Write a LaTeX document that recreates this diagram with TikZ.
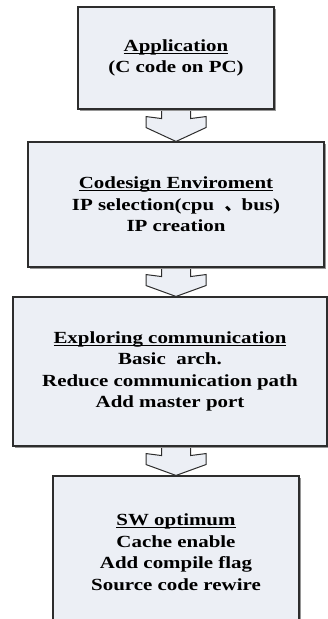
\documentclass[tikz,border=0pt]{standalone}
\usepackage{fontspec}
\setmainfont{Liberation Serif}[FakeStretch=1.23]
\newfontfamily\cjk{Noto Sans CJK SC}
\usetikzlibrary{calc,backgrounds}
\definecolor{boxfill}{RGB}{236,239,245}
\definecolor{boxline}{RGB}{45,45,45}
\definecolor{boxshade}{RGB}{150,150,150}
% underlined heading with a fixed rule just below the baseline
\newcommand\ulhead[1]{\setbox0=\hbox{#1}\rlap{\rule[-2.6pt]{\wd0}{1.2pt}}\box0}
% hollow block arrow from the bottom of one stage to the top of the next
\newcommand\stagearrow[2]{%
  \draw[flowarrow] let \p0=(axis), \p1=(#1.south), \p2=(#2.north) in
    (\x0-14.5pt,\y1) -- (\x0-14.5pt,\y1-9pt) -- (\x0-30pt,\y1-7pt)
    -- (\x0-30pt,\y1-18pt) -- (\x0,\y2) -- (\x0+30pt,\y1-18pt)
    -- (\x0+30pt,\y1-7pt) -- (\x0+14.5pt,\y1-9pt) -- (\x0+14.5pt,\y1);}
\begin{document}
\begin{tikzpicture}[x=1pt,y=-1pt,
  stage/.style={draw=boxline, fill=boxfill, line width=1.1pt, align=center,
    inner sep=0pt, font=\fontsize{17}{21.5}\selectfont\bfseries,
    preaction={fill=boxshade, transform canvas={xshift=1.5pt,yshift=-1.5pt}}},
  flowarrow/.style={draw=boxline, fill=boxfill, line width=1pt, line join=miter}]
\useasboundingbox (0,0) rectangle (328,619);
\clip (0,0) rectangle (328,619);
\coordinate (axis) at (176,0);

\node[stage, minimum width=196, minimum height=102] (app) at (176,58)
  {\ulhead{Application}\\(C code on PC)};
\node[stage, minimum width=296, minimum height=125] (env) at (176,204.5)
  {\ulhead{Codesign Enviroment}\\IP selection(cpu \ {\cjk 、}bus)\\IP creation};
\node[stage, minimum width=314, minimum height=149] (comm) at (170,371.5)
  {\ulhead{Exploring communication}\\Basic\ \ arch.\\Reduce communication path\\Add master port};
\node[stage, minimum width=246, minimum height=152] (sw) at (176,552)
  {\ulhead{SW optimum}\\Cache enable\\Add compile flag\\Source code rewire};

\begin{pgfonlayer}{background}
  \stagearrow{app}{env}
  \stagearrow{env}{comm}
  \stagearrow{comm}{sw}
\end{pgfonlayer}
\end{tikzpicture}
\end{document}
